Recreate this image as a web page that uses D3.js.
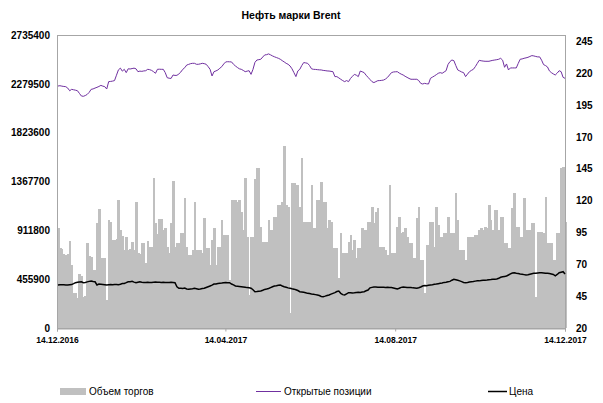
<!DOCTYPE html>
<html><head><meta charset="utf-8">
<script src="https://cdn.jsdelivr.net/npm/d3@7"></script>
<style>body{margin:0;background:#fff;} svg{display:block;font-family:"Liberation Sans",Arial,sans-serif;}</style>
</head><body><svg id="c" width="603" height="403"></svg>
<script>
const chartTitle = "Нефть марки Brent";
const seriesNames = ["Объем торгов", "Открытые позиции", "Цена"];
// daily trading volume, thousands of contracts
const volume = [
930,750,740,690,680,690,815,590,330,325,
280,500,490,290,295,790,670,660,540,545,
980,1115,650,650,655,260,1008,990,820,825,
830,1195,915,860,730,850,730,740,805,730,
1180,700,690,790,790,605,815,760,760,1400,
977,880,1020,1020,915,930,760,700,980,1375,
760,790,790,884,884,1210,759,681,681,728,
1179,728,728,728,697,1024,744,744,588,821,
930,588,759,759,1008,868,868,868,448,1195,
1195,1195,1180,1195,1086,915,1397,853,308,853,
853,1390,1490,1490,946,806,806,806,1008,915,
915,1039,1039,1148,1148,1179,1700,1148,1133,137,
1350,1350,1335,1335,1133,1584,993,993,993,993,
1335,930,930,1195,1195,1366,1180,1180,930,1008,
993,744,744,744,464,884,697,697,697,806,
868,728,822,650,744,744,930,915,915,993,
993,1133,977,1086,1117,759,759,759,728,681,
1335,697,697,697,946,1039,884,900,930,853,
790,790,650,650,1024,1133,635,635,324,775,
775,993,993,759,1133,961,853,853,884,884,
1039,890,890,890,1257,1008,728,728,728,635,
853,853,853,853,870,870,915,930,915,946,
930,1148,1008,915,1102,1102,915,1039,1039,790,
790,744,744,1117,1257,946,946,853,853,1210,
915,915,915,977,977,293,900,900,900,884,
1226,790,790,790,635,635,884,884,1490,1506,993
];
// open interest, thousands of contracts
const openInterest = [
2259,2262,2258,2255,2253,2240,2215,2228,2224,2220,
2215,2190,2166,2163,2170,2181,2200,2228,2232,2240,
2247,2255,2265,2258,2253,2231,2300,2302,2305,2310,
2360,2410,2426,2398,2415,2384,2420,2418,2422,2426,
2420,2393,2398,2396,2400,2402,2415,2412,2405,2393,
2378,2415,2416,2415,2415,2384,2337,2332,2330,2362,
2358,2359,2372,2390,2415,2430,2455,2461,2468,2471,
2471,2462,2462,2466,2471,2468,2462,2440,2415,2353,
2393,2400,2409,2425,2440,2465,2484,2486,2485,2484,
2462,2446,2432,2420,2415,2405,2393,2398,2402,2368,
2415,2480,2502,2505,2509,2530,2549,2552,2559,2550,
2540,2532,2525,2518,2509,2496,2484,2471,2462,2446,
2420,2384,2347,2400,2415,2450,2478,2475,2471,2450,
2420,2415,2414,2412,2410,2409,2405,2403,2400,2399,
2396,2393,2347,2347,2335,2322,2310,2300,2310,2300,
2330,2350,2368,2360,2347,2399,2392,2384,2360,2340,
2320,2300,2291,2300,2309,2310,2312,2315,2325,2340,
2362,2384,2390,2392,2393,2380,2370,2362,2350,2340,
2330,2322,2322,2322,2322,2310,2284,2278,2284,2280,
2278,2331,2342,2353,2365,2378,2384,2378,2390,2402,
2460,2487,2502,2496,2450,2409,2400,2390,2384,2347,
2370,2393,2405,2415,2440,2470,2499,2495,2492,2490,
2490,2490,2495,2499,2502,2505,2509,2518,2500,2434,
2465,2409,2428,2428,2428,2428,2470,2509,2512,2518,
2522,2527,2535,2543,2540,2535,2531,2531,2500,2459,
2450,2437,2400,2384,2372,2362,2380,2402,2393,2340,2331
];
// Brent price, USD/bbl
const price = [
53.8,53.9,54.0,53.9,53.8,53.8,54.0,54.1,54.8,55.6,
55.9,56.1,56.3,55.5,55.8,56.2,56.6,56.9,56.5,56.3,
53.8,54.5,54.4,54.2,54.0,53.8,54.0,54.1,54.0,54.1,
54.2,54.0,54.4,54.9,55.0,55.6,56.3,56.4,56.6,56.0,
55.5,55.9,56.3,56.0,55.8,55.7,55.9,55.8,55.8,56.0,
56.1,56.0,55.9,55.8,55.9,55.8,55.8,55.7,55.9,55.8,
55.5,52.4,51.2,51.2,51.0,51.3,50.6,50.5,50.7,50.9,
51.2,50.8,50.4,50.6,51.0,51.2,51.8,52.4,53.0,53.6,
54.5,54.6,54.9,55.1,55.3,55.6,55.7,55.6,55.6,54.5,
53.8,53.0,52.8,52.6,52.4,52.2,52.0,51.7,51.6,51.2,
50.0,48.5,48.6,48.8,49.0,49.6,50.3,50.6,51.0,51.7,
52.4,52.9,53.2,53.6,53.8,53.0,52.4,52.0,51.5,51.2,
50.8,50.5,50.0,49.4,48.5,48.3,48.0,47.7,47.2,47.0,
46.7,46.5,46.2,45.9,45.5,44.8,44.6,45.0,45.5,45.9,
46.6,47.2,47.8,48.6,49.0,47.2,46.2,45.9,46.8,47.7,
47.7,47.5,47.6,47.9,48.0,47.8,48.2,48.5,49.2,49.8,
51.5,51.9,52.2,52.1,51.9,52.0,51.9,52.0,51.8,51.9,
51.7,51.8,51.4,51.0,50.6,51.2,51.9,52.1,51.9,51.7,
51.8,51.7,51.5,51.4,51.3,51.6,52.2,53.0,53.4,53.2,
53.5,53.8,54.0,54.3,54.5,54.8,55.1,55.4,55.8,56.0,
56.3,56.6,57.5,58.2,57.9,57.5,57.0,56.4,55.8,55.6,
55.8,56.1,56.3,56.5,56.8,57.1,57.0,57.3,57.4,57.5,
57.6,57.9,58.0,58.2,58.2,58.5,59.0,59.8,60.2,60.5,
60.8,61.6,62.5,63.2,63.4,63.0,62.7,62.4,62.2,61.9,
61.6,61.8,62.2,62.6,62.9,63.0,63.2,63.4,63.3,63.2,
62.9,62.9,62.7,62.4,62.0,61.0,62.0,63.4,63.8,64.2,62.4
];
const leftTicks = [0, 455.9, 911.8, 1367.7, 1823.6, 2279.5, 2735.4];
const leftTickLabels = ["0", "455900", "911800", "1367700", "1823600", "2279500", "2735400"];
const rightTicks = [20, 45, 70, 95, 120, 145, 170, 195, 220, 245];
const dateTicks = ["2016-12-14", "2017-04-14", "2017-08-14", "2017-12-14"];
const dateTickLabels = ["14.12.2016", "14.04.2017", "14.08.2017", "14.12.2017"];

const svg = d3.select("#c");
const L = 57, R = 566, T = 35, B = 328;
const parse = d3.timeParse("%Y-%m-%d");
const N = volume.length;

const xBand = d3.scaleBand().domain(d3.range(N)).range([L, R]).padding(0);
const xTime = d3.scaleTime().domain([parse(dateTicks[0]), parse(dateTicks[3])]).range([L, R - 1]);
const yL = d3.scaleLinear().domain([0, 2735.4]).range([B, T]);
const yR = d3.scaleLinear().domain([20, 250]).range([B, T]);

// bars
svg.append("g").attr("shape-rendering", "crispEdges").selectAll("rect").data(volume).join("rect")
  .attr("x", (d, i) => xBand(i))
  .attr("y", d => yL(d))
  .attr("width", xBand.bandwidth() + 0.6)
  .attr("height", d => B - yL(d))
  .attr("fill", "#c0c0c0");

// plot frame
svg.append("rect").attr("x", L + 0.5).attr("y", T + 0.5).attr("width", R - L - 1).attr("height", B - T)
  .attr("fill", "none").attr("stroke", "#a6a6a6").attr("stroke-width", 1);

const cx = i => xBand(i) + xBand.bandwidth() / 2;
svg.append("path").datum(openInterest)
  .attr("d", d3.line().x((d, i) => cx(i)).y(d => yL(d)))
  .attr("fill", "none").attr("stroke", "#7030a0").attr("stroke-width", 1);
svg.append("path").datum(price)
  .attr("d", d3.line().x((d, i) => cx(i)).y(d => yR(d)))
  .attr("fill", "none").attr("stroke", "#000").attr("stroke-width", 1.5);

// axes
const fontAxis = g => g.selectAll("text").attr("font-size", 10).attr("font-weight", "bold").attr("fill", "#000");
svg.append("g").attr("transform", `translate(${L},0)`)
  .call(d3.axisLeft(yL).tickValues(leftTicks).tickFormat((d, i) => leftTickLabels[i]).tickSize(0).tickPadding(7))
  .call(g => g.select(".domain").remove())
  .call(fontAxis);
svg.append("g").attr("transform", `translate(${R},0)`)
  .call(d3.axisRight(yR).tickValues(rightTicks).tickSize(0).tickPadding(10))
  .call(g => g.select(".domain").remove())
  .call(fontAxis);
svg.append("g").attr("transform", `translate(0,${B + 0.5})`)
  .call(d3.axisBottom(xTime).tickValues(dateTicks.map(parse)).tickFormat((d, i) => dateTickLabels[i]).tickSize(3).tickPadding(5))
  .call(g => g.select(".domain").attr("stroke", "#a6a6a6"))
  .call(g => g.selectAll(".tick line").attr("stroke", "#a6a6a6"))
  .call(g => g.selectAll("text").attr("font-size", 8.5).attr("font-weight", "bold").attr("fill", "#000"));

// title
svg.append("text").attr("x", 291).attr("y", 19).attr("text-anchor", "middle")
  .attr("font-size", 10.5).attr("font-weight", "bold").text(chartTitle);

// legend
const lg = svg.append("g").attr("font-size", 10);
lg.append("rect").attr("x", 60).attr("y", 388).attr("width", 26).attr("height", 7).attr("fill", "#c0c0c0");
lg.append("text").attr("x", 89).attr("y", 395).text(seriesNames[0]);
lg.append("line").attr("x1", 256).attr("x2", 281).attr("y1", 391.5).attr("y2", 391.5).attr("stroke", "#7030a0").attr("stroke-width", 1);
lg.append("text").attr("x", 284).attr("y", 395).text(seriesNames[1]);
lg.append("line").attr("x1", 488).attr("x2", 507).attr("y1", 391.5).attr("y2", 391.5).attr("stroke", "#000").attr("stroke-width", 1.5);
lg.append("text").attr("x", 509).attr("y", 395).text(seriesNames[2]);
</script></body></html>
